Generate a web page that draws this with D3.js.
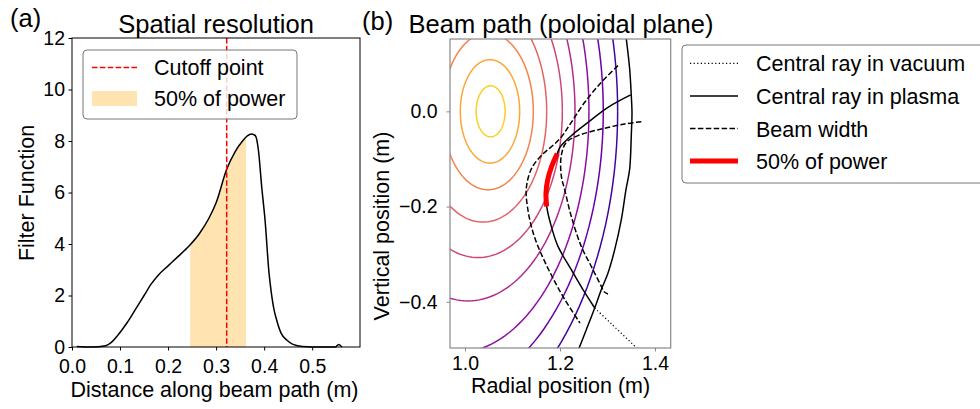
<!DOCTYPE html>
<html>
<head>
<meta charset="utf-8">
<script src="https://cdn.jsdelivr.net/npm/d3@7"></script>
<style>
body { margin: 0; background: #fff; }
svg { font-family: "Liberation Sans", Arial, sans-serif; }
</style>
</head>
<body>
<svg width="980" height="409"></svg>
<script>
'use strict';

// ---- panel (a): filter function along the beam ----
var filterX = [0.010, 0.040, 0.070, 0.080, 0.095, 0.115, 0.135, 0.150, 0.165, 0.180, 0.200, 0.220,
	0.245, 0.265, 0.285, 0.300, 0.322, 0.340, 0.355, 0.365, 0.374, 0.382, 0.388, 0.395, 0.402,
	0.410, 0.4125, 0.420, 0.426, 0.435, 0.447, 0.460, 0.480, 0.520, 0.548, 0.555, 0.562];
var filterY = [0.02, 0.00, 0.05, 0.15, 0.45, 0.95, 1.55, 2.00, 2.45, 2.80, 3.15, 3.50,
	3.95, 4.40, 5.00, 5.60, 6.90, 7.60, 8.00, 8.20, 8.27, 8.20, 7.65, 6.20, 4.90,
	2.90, 2.47, 1.50, 1.05, 0.55, 0.27, 0.10, 0.02, 0.00, 0.00, 0.10, 0.00];
var powerRange = [0.246, 0.3625];
var cutoffX = 0.322;
var xTicksA = [0, 0.1, 0.2, 0.3, 0.4, 0.5];
var yTicksA = [0, 2, 4, 6, 8, 10, 12];
var legendA = ['Cutoff point', '50% of power'];

// ---- panel (b): flux surfaces (centre R, half width, half height) ----
var surfPsi = [0.1, 0.2, 0.3, 0.4, 0.5, 0.6, 0.7, 0.8, 0.9];
var surfR = [1.054, 1.0526, 1.0484, 1.0379, 1.0274, 1.0063, 0.9789, 0.9431, 0.8989];
var surfA = [0.0305, 0.0625, 0.0954, 0.1341, 0.1775, 0.2253, 0.2821, 0.3480, 0.4225];
var surfB = [0.0536, 0.1087, 0.1647, 0.2326, 0.3070, 0.3981, 0.5079, 0.5952, 0.6967];

var lcfsR = [1.3396, 1.3467, 1.3501, 1.3516, 1.3501, 1.3467, 1.3389, 1.3291, 1.3152, 1.3011, 1.2869, 1.2731, 1.2554, 1.2394];
var lcfsZ = [0.1521, 0.0891, 0.0330, -0.0021, -0.0511, -0.1210, -0.1645, -0.2275, -0.2905, -0.3395, -0.3746, -0.4130, -0.4586, -0.4992];

var rayR = [1.3488, 1.301, 1.259, 1.2238, 1.1994, 1.1943, 1.1825, 1.1741, 1.1705, 1.172, 1.1817, 1.1958, 1.2238, 1.2484, 1.2731];
var rayZ = [0.0345, 0.0084, -0.0231, -0.0511, -0.0760, -0.0889, -0.1155, -0.1435, -0.1714, -0.1996, -0.2416, -0.2836, -0.3326, -0.3746, -0.4130];

var vacR = [1.2731, 1.3100, 1.3700];
var vacZ = [-0.4130, -0.4480, -0.5050];

var powerR = [1.1943, 1.1825, 1.1741, 1.1705, 1.172];
var powerZ = [-0.0889, -0.1155, -0.1435, -0.1714, -0.1996];

var edge1R = [1.322, 1.287, 1.252, 1.2238, 1.1994, 1.1606, 1.1396, 1.129, 1.133, 1.145, 1.163, 1.185, 1.210, 1.2421];
var edge1Z = [0.096, 0.061, 0.019, -0.023, -0.058, -0.093, -0.121, -0.163, -0.210, -0.260, -0.305, -0.350, -0.395, -0.4445];

var edge2R = [1.3712, 1.3362, 1.287, 1.2379, 1.2133, 1.2027, 1.2027, 1.2099, 1.2238, 1.2448, 1.2659, 1.2870, 1.2920, 1.3010];
var edge2Z = [-0.0216, -0.0265, -0.037, -0.051, -0.065, -0.093, -0.135, -0.1645, -0.2206, -0.2836, -0.3256, -0.3676, -0.3780, -0.3836];

var xTicksB = [1.0, 1.2, 1.4];
var yTicksB = [0.0, -0.2, -0.4];
var legendB = ['Central ray in vacuum', 'Central ray in plasma', 'Beam width', '50% of power'];

function pairs(a, b) { return a.map(function(v, i){ return [v, b[i]]; }); }

var svg = d3.select('svg');
var fs = 19.5, fl = 21.5, ft = 25.5;

// ================= panel (a) =================
var xA = d3.scaleLinear().domain([0, 0.5995]).range([72, 360]);
var yA = d3.scaleLinear().domain([0, 12]).range([347, 38]);
var filt = pairs(filterX, filterY);

svg.append('clipPath').attr('id', 'pw').append('rect')
	.attr('x', xA(powerRange[0])).attr('y', 0)
	.attr('width', xA(powerRange[1]) - xA(powerRange[0])).attr('height', 409);

svg.append('path')
	.datum(filt)
	.attr('clip-path', 'url(#pw)')
	.attr('fill', 'orange').attr('fill-opacity', 0.3)
	.attr('d', d3.area().x(function(d){ return xA(d[0]); }).y0(yA(0)).y1(function(d){ return yA(d[1]); }).curve(d3.curveMonotoneX));

svg.append('path')
	.datum(filt)
	.attr('fill', 'none').attr('stroke', '#000').attr('stroke-width', 1.5)
	.attr('d', d3.line().x(function(d){ return xA(d[0]); }).y(function(d){ return yA(d[1]); }).curve(d3.curveMonotoneX));

svg.append('line')
	.attr('x1', xA(cutoffX)).attr('x2', xA(cutoffX))
	.attr('y1', yA(12)).attr('y2', yA(0))
	.attr('stroke', 'red').attr('stroke-width', 1.5).attr('stroke-dasharray', '5.5,2.4');

var gxA = svg.append('g').attr('transform', 'translate(0,' + yA(0) + ')')
	.call(d3.axisBottom(xA).tickValues(xTicksA).tickFormat(d3.format('.1f')).tickSize(3.5).tickPadding(9));
var gyA = svg.append('g').attr('transform', 'translate(' + xA(0) + ',0)')
	.call(d3.axisLeft(yA).tickValues(yTicksA).tickFormat(d3.format('d')).tickSize(3.5).tickPadding(3.5));
[gxA, gyA].forEach(function(g){
	g.select('.domain').remove();
	g.selectAll('text').attr('font-size', fs).attr('fill', '#000').attr('font-family', null);
	g.selectAll('line').attr('stroke', '#000');
});

svg.append('rect')
	.attr('x', xA(0)).attr('y', yA(12))
	.attr('width', xA.range()[1] - xA(0)).attr('height', yA(0) - yA(12))
	.attr('fill', 'none').attr('stroke', '#000').attr('stroke-width', 1);

// legend (a)
var lgA = svg.append('g');
lgA.append('rect').attr('x', 83).attr('y', 50).attr('width', 214).attr('height', 69).attr('rx', 4)
	.attr('fill', '#fff').attr('fill-opacity', 0.8).attr('stroke', '#777');
lgA.append('line').attr('x1', 92).attr('x2', 137).attr('y1', 67.5).attr('y2', 67.5)
	.attr('stroke', 'red').attr('stroke-width', 1.5).attr('stroke-dasharray', '5.5,2.4');
lgA.append('rect').attr('x', 92).attr('y', 91).attr('width', 45).attr('height', 15)
	.attr('fill', 'orange').attr('fill-opacity', 0.3);
lgA.selectAll('text.l').data(legendA).enter().append('text')
	.attr('x', 154).attr('y', function(d, i){ return 75 + i * 31; })
	.attr('font-size', fl).text(function(d){ return d; });

svg.append('text').attr('x', (xA(0) + 360) / 2).attr('y', 33).attr('text-anchor', 'middle')
	.attr('font-size', ft).text('Spatial resolution');
svg.append('text').attr('x', 10).attr('y', 27).attr('font-size', ft).text('(a)');
svg.append('text').attr('x', 214.5).attr('y', 397).attr('text-anchor', 'middle')
	.attr('font-size', fl).text('Distance along beam path (m)');
svg.append('text').attr('transform', 'translate(33.5,193) rotate(-90)').attr('text-anchor', 'middle')
	.attr('font-size', fl).text('Filter Function');

// ================= panel (b) =================
var xB = d3.scaleLinear().domain([0.9684, 1.4331]).range([450, 670.7]);
var yB = d3.scaleLinear().domain([-0.497, 0.152]).range([348, 39]);
var colour = function(p){ return d3.interpolatePlasma(1 - p); };
var lineB = d3.line().x(function(d){ return xB(d[0]); }).y(function(d){ return yB(d[1]); }).curve(d3.curveCatmullRom);

svg.append('clipPath').attr('id', 'cb').append('rect')
	.attr('x', 450).attr('y', 39).attr('width', 220.7).attr('height', 309);
var plotB = svg.append('g').attr('clip-path', 'url(#cb)');

var angles = d3.range(0, 361, 2).map(function(a){ return a * Math.PI / 180; });
plotB.selectAll('path.surf').data(surfPsi).enter().append('path')
	.attr('fill', 'none').attr('stroke-width', 1.5)
	.attr('stroke', function(d){ return colour(d); })
	.attr('d', function(d, i){
		return d3.line().x(function(t){ return xB(surfR[i] + surfA[i] * Math.cos(t)); })
			.y(function(t){ return yB(surfB[i] * Math.sin(t)); })(angles);
	});

plotB.append('path').attr('d', lineB(pairs(lcfsR, lcfsZ)))
	.attr('fill', 'none').attr('stroke', '#000').attr('stroke-width', 1.5);
plotB.append('path').attr('d', lineB(pairs(vacR, vacZ)))
	.attr('fill', 'none').attr('stroke', '#000').attr('stroke-width', 1.2).attr('stroke-dasharray', '1.2,2.4');
plotB.append('path').attr('d', lineB(pairs(rayR, rayZ)))
	.attr('fill', 'none').attr('stroke', '#000').attr('stroke-width', 1.5);
[pairs(edge1R, edge1Z), pairs(edge2R, edge2Z)].forEach(function(e){
	plotB.append('path').attr('d', lineB(e))
		.attr('fill', 'none').attr('stroke', '#000').attr('stroke-width', 1.5).attr('stroke-dasharray', '5.5,2.4');
});
plotB.append('path').attr('d', lineB(pairs(powerR, powerZ)))
	.attr('fill', 'none').attr('stroke', 'red').attr('stroke-width', 5);

var gxB = svg.append('g').attr('transform', 'translate(0,' + yB.range()[0] + ')')
	.call(d3.axisBottom(xB).tickValues(xTicksB).tickFormat(d3.format('.1f')).tickSize(3.5).tickPadding(5));
var gyB = svg.append('g').attr('transform', 'translate(' + xB.range()[0] + ',0)')
	.call(d3.axisLeft(yB).tickValues(yTicksB).tickFormat(d3.format('.1f')).tickSize(3.5).tickPadding(9));
[gxB, gyB].forEach(function(g){
	g.select('.domain').remove();
	g.selectAll('text').attr('font-size', fs).attr('fill', '#000').attr('font-family', null);
	g.selectAll('line').attr('stroke', '#888');
});
svg.append('rect').attr('x', 450).attr('y', 39).attr('width', 220.7).attr('height', 309)
	.attr('fill', 'none').attr('stroke', '#888').attr('stroke-width', 1.2);

svg.append('text').attr('x', 561).attr('y', 33).attr('text-anchor', 'middle')
	.attr('font-size', ft).text('Beam path (poloidal plane)');
svg.append('text').attr('x', 362).attr('y', 30).attr('font-size', ft).text('(b)');
svg.append('text').attr('x', 560.5).attr('y', 393).attr('text-anchor', 'middle')
	.attr('font-size', fl).text('Radial position (m)');
svg.append('text').attr('transform', 'translate(389,226) rotate(-90)').attr('text-anchor', 'middle')
	.attr('font-size', fl).text('Vertical position (m)');

// legend (b)
var lgB = svg.append('g');
lgB.append('rect').attr('x', 682).attr('y', 45).attr('width', 320).attr('height', 138).attr('rx', 4)
	.attr('fill', '#fff').attr('stroke', '#777');
var sampleStyle = [
	{ w: 1.2, dash: '1.2,2.4', c: '#000' },
	{ w: 1.5, dash: null, c: '#000' },
	{ w: 1.5, dash: '5.5,2.4', c: '#000' },
	{ w: 5, dash: null, c: 'red' }
];
legendB.forEach(function(t, i){
	var y = 63.3 + i * 32.6;
	lgB.append('line').attr('x1', 690).attr('x2', 738).attr('y1', y).attr('y2', y)
		.attr('stroke', sampleStyle[i].c).attr('stroke-width', sampleStyle[i].w)
		.attr('stroke-dasharray', sampleStyle[i].dash);
	lgB.append('text').attr('x', 756).attr('y', y + 8).attr('font-size', fl).text(t);
});
</script>
</body>
</html>
